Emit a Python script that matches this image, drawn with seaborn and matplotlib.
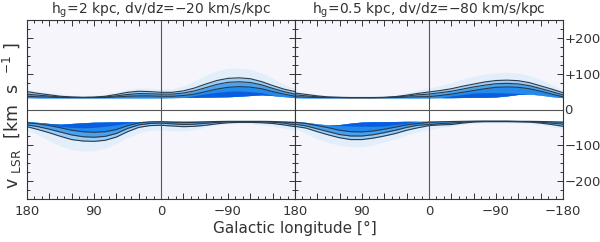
import numpy as np
import matplotlib
matplotlib.use("Agg")
import matplotlib.pyplot as plt
from matplotlib.ticker import MultipleLocator, FuncFormatter
import seaborn as sns

# galactic longitude grid (deg), 180 -> -180
lon = [180, 165, 150, 135, 120, 105, 90, 75, 60, 45, 30, 15, 0,
       -15, -30, -45, -60, -75, -90, -105, -120, -135, -150, -165, -180]

titles = ["h$_{\\rm g}$=2 kpc, dv/dz=\u221220 km/s/kpc",
          "h$_{\\rm g}$=0.5 kpc, dv/dz=\u221280 km/s/kpc"]

# ---- panel 1 : positive velocity band ----
p1_up_halo = [57, 52, 47, 43, 40, 39, 40, 43, 49, 56, 60, 59, 57,
              58, 66, 80, 96, 108, 115, 116, 112, 102, 87, 71, 58]
p1_up_c1 = [50, 45, 41, 37, 35, 34, 34.5, 37, 42, 48, 51, 50, 48,
            48, 52, 60, 71, 81, 87, 88.5, 86, 78, 67, 57, 50]
p1_up_c2 = [43, 40, 37.5, 35, 34, 33.5, 34, 35, 38, 42, 44.5, 44, 43,
            43, 46, 52, 61, 70, 76, 77.5, 75.5, 69, 59, 50, 43]
p1_up_c3 = [37, 35.5, 34.5, 33.5, 33, 33, 33, 33.5, 35, 37, 38, 38, 37,
            37, 39, 43, 50, 57, 62, 64, 62.5, 58, 50, 43, 37]
p1_up_dark = [33, 32.5, 32.5, 32.5, 32.5, 32.5, 32.5, 32.5, 32.5, 32.5, 32.5, 32.5, 32.5,
              33, 33.5, 39, 44, 48, 51, 52, 50, 47, 40, 36, 33]
p1_up_inner = [33, 32.5, 32.5, 32.5, 32.5, 32.5, 32.5, 32.5, 32.5, 32.5, 32.5, 32.5, 32.5,
               33, 33.5, 34, 34.5, 35, 35.5, 37, 39, 41, 39, 36, 33]

# ---- panel 1 : negative velocity band ----
p1_lo_halo = [-58, -71, -87, -102, -112, -116, -115, -108, -95, -79, -65, -58, -57,
              -59, -60, -56, -49, -43, -40, -39, -40, -43, -47, -52, -58]
p1_lo_c1 = [-48, -56, -65, -75, -84, -88, -89, -86, -77, -62, -50, -45, -44,
            -46, -48, -47, -44, -40, -37, -36, -36, -37, -39, -43, -48]
p1_lo_c2 = [-43, -48, -55, -63, -71, -76, -77.5, -75, -67, -53, -43, -39, -38,
            -40, -42, -41, -38.5, -36, -34.5, -34, -34, -34.5, -35.5, -38, -43]
p1_lo_c3 = [-37, -40, -45, -51, -58, -62, -63.5, -62, -56, -45, -37.5, -34.5, -34,
            -35.5, -36.5, -36, -34.5, -33.5, -33, -33, -33, -33, -33.5, -35, -37]
p1_lo_dark = [-33, -36, -42, -47, -50, -51, -50, -47, -43, -38, -33.5, -33, -32.5,
              -32.5, -32.5, -32.5, -32.5, -32.5, -32.5, -32.5, -32.5, -32.5, -32.5, -32.5, -33]
p1_lo_inner = [-33, -36, -39, -41, -39, -37, -35.5, -35, -34.5, -34, -33.5, -33, -32.5,
               -32.5, -32.5, -32.5, -32.5, -32.5, -32.5, -32.5, -32.5, -32.5, -32.5, -32.5, -33]

# ---- panel 2 : positive velocity band ----
p2_up_halo = [52, 48, 43, 39.5, 37.5, 37, 37, 37, 38, 41, 47, 54, 61,
              67, 75, 85, 93, 99, 103, 104, 102, 95, 84, 70, 54]
p2_up_c1 = [46, 42, 38, 35, 34, 33.5, 33.5, 33.5, 34, 36, 40, 45, 49,
            53, 58, 65, 71, 77, 81, 82, 80.5, 75, 66, 57, 47]
p2_up_c2 = [41, 38, 35.5, 34, 33.5, 33, 33, 33, 33.5, 35, 37.5, 41, 43,
            47, 51, 57, 63, 68, 72, 73, 71.5, 66.5, 58.5, 50, 41]
p2_up_c3 = [35.5, 34.5, 33.5, 33, 33, 32.5, 32.5, 32.5, 33, 33.5, 34.5, 35.5, 36,
            39, 43, 48, 53, 58, 62, 63, 62, 58, 51, 43, 35.5]
p2_up_dark = [33, 32.5, 32.5, 32.5, 32.5, 32.5, 32.5, 32.5, 32.5, 32.5, 32.5, 32.5, 32.5,
              33, 38, 42, 46, 47, 47, 46, 45, 43, 40, 36, 33]
p2_up_inner = [33, 32.5, 32.5, 32.5, 32.5, 32.5, 32.5, 32.5, 32.5, 32.5, 32.5, 32.5, 32.5,
               33, 33, 33.5, 34, 34, 35, 38, 42, 43, 40, 36, 33]

# ---- panel 2 : negative velocity band ----
p2_lo_halo = [-54, -67, -82, -93, -100, -104, -104, -99, -91, -82, -71, -62, -56,
              -51, -47, -42, -39, -37.5, -37, -37, -37.5, -39, -43, -48, -54]
p2_lo_c1 = [-47, -52, -62, -71, -79, -84, -84, -80, -74, -67, -58, -51, -45,
            -43, -42, -38, -35, -34, -34, -34, -34.5, -35, -38, -42, -47]
p2_lo_c2 = [-41, -46, -54, -62, -70, -74, -74, -70.5, -64.5, -58, -50, -44, -42,
            -39.5, -38, -35.5, -33.5, -33, -33, -33, -33.5, -34, -35.5, -38, -41]
p2_lo_c3 = [-35.5, -39, -45, -51, -58, -62, -62.5, -60, -55, -49, -43, -39, -36,
            -34.5, -33.5, -33, -32.5, -32.5, -32.5, -32.5, -33, -33, -33.5, -34.5, -35.5]
p2_lo_dark = [-33, -36, -40, -43, -45, -46, -47, -47, -46, -42, -38, -33, -32.5,
              -32.5, -32.5, -32.5, -32.5, -32.5, -32.5, -32.5, -32.5, -32.5, -32.5, -32.5, -33]
p2_lo_inner = [-33, -36, -40, -43, -42, -38, -35, -34, -34, -33.5, -33, -33, -32.5,
               -32.5, -32.5, -32.5, -32.5, -32.5, -32.5, -32.5, -32.5, -32.5, -32.5, -32.5, -33]

panels = [
    [(p1_up_halo, p1_up_c1, p1_up_c2, p1_up_c3, p1_up_dark, p1_up_inner),
     (p1_lo_halo, p1_lo_c1, p1_lo_c2, p1_lo_c3, p1_lo_dark, p1_lo_inner)],
    [(p2_up_halo, p2_up_c1, p2_up_c2, p2_up_c3, p2_up_dark, p2_up_inner),
     (p2_lo_halo, p2_lo_c1, p2_lo_c2, p2_lo_c3, p2_lo_dark, p2_lo_inner)],
]

sns.set_style("ticks")
plt.rcParams["font.family"] = ["DejaVu Sans"]
plt.rcParams["axes.linewidth"] = 0.8

bg_col = "#f6f5fc"
halo_col = "#e2effb"
fill_cols = ["#9ccdf4", "#4aa2ee", "#2289ed", "#0b5ddf"]
line_col = "#2b3b4c"
text_col = "#333333"

fig = plt.figure(figsize=(6.0, 2.42), dpi=100)
ax1 = fig.add_axes([27 / 600, 43 / 242, 268 / 600, 179 / 242])
ax2 = fig.add_axes([295 / 600, 43 / 242, 268 / 600, 179 / 242])
x = np.array(lon, dtype=float)

for i, ax in enumerate([ax1, ax2]):
    ax.set_facecolor(bg_col)
    up, lo = panels[i]
    # white gap between the two emission bands
    ax.fill_between(x, lo[5], up[5], color="white", lw=0, zorder=1)
    for band in (up, lo):
        halo, c1, c2, c3, dark, inner = band
        ax.fill_between(x, inner, halo, color=halo_col, lw=0, zorder=2)
        for lev, col in zip((c1, c2, c3, dark), fill_cols):
            ax.fill_between(x, inner, lev, color=col, lw=0, zorder=3)
        for lev in (c1, c2, c3):
            sns.lineplot(x=x, y=lev, ax=ax, color=line_col, lw=0.8,
                         sort=False, estimator=None, zorder=4)
    ax.axhline(0, color="#555555", lw=0.8, zorder=5)
    ax.axvline(0, color="#555555", lw=0.8, zorder=5)

    ax.set_xlim(180, -180)
    ax.set_ylim(-250, 250)
    ax.xaxis.set_major_locator(MultipleLocator(30))
    ax.xaxis.set_minor_locator(MultipleLocator(10))
    ax.yaxis.set_major_locator(MultipleLocator(100))
    ax.yaxis.set_minor_locator(MultipleLocator(25))
    ax.tick_params(which="both", direction="in", top=True, right=True,
                   bottom=True, left=True, color="#333333", width=0.7,
                   labelcolor=text_col)
    ax.tick_params(which="major", length=4, labelsize=9.5, pad=4)
    ax.tick_params(which="minor", length=2)
    ax.set_title(titles[i], fontsize=10, pad=4, color=text_col)

    def lon_fmt(v, pos, last=(i == 1)):
        if abs(v) % 90 > 1e-6:
            return ""
        if v < -179 and not last:
            return ""
        return "%d" % v if v >= 0 else "\u2212%d" % abs(v)
    ax.xaxis.set_major_formatter(FuncFormatter(lon_fmt))
    ax.set_xlabel("")
    ax.set_ylabel("")
    for s in ax.spines.values():
        s.set_color("#333333")
        s.set_zorder(6)

ax1.tick_params(axis="y", labelleft=False)
ax2.tick_params(axis="y", labelleft=False, labelright=True, pad=1)
ax2.yaxis.set_major_formatter(FuncFormatter(
    lambda v, p: "0" if v == 0 else ("+%d" % v if v > 0 else "\u2212%d" % abs(v))))

fig.text(12 / 600, 126 / 242, "v $_{\\rm LSR}$  [km  s  $^{-1}$ ]", rotation=90,
         ha="center", va="center", fontsize=12.5, color=text_col)
fig.text(295 / 600, 14 / 242, "Galactic longitude [\u00b0]", ha="center",
         va="center", fontsize=11, color=text_col)

fig.savefig("out.png", dpi=100)
